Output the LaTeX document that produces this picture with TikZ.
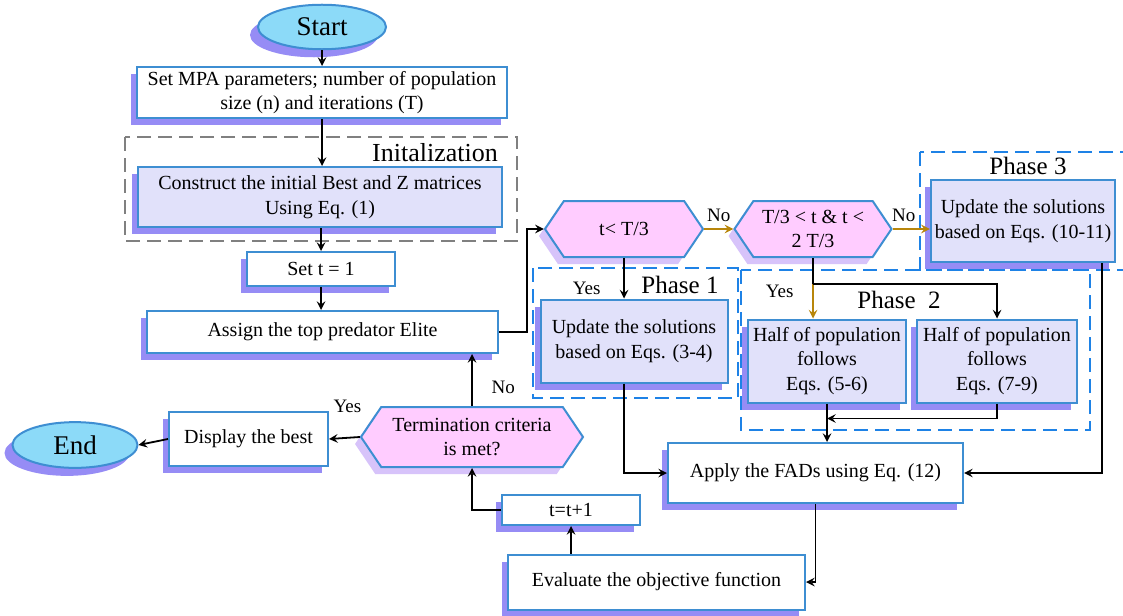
\documentclass[tikz,border=0pt]{standalone}
\usepackage{fontspec}
\setmainfont{Liberation Serif}
\usepackage{xcolor}
\usetikzlibrary{shapes,arrows,positioning,shadows,calc}

\definecolor{boxline}{RGB}{62,142,210}
\definecolor{boxshadow}{RGB}{150,140,245}
\definecolor{hexshadow}{RGB}{215,195,250}
\definecolor{hexfill}{RGB}{255,204,255}
\definecolor{lavender}{RGB}{225,225,250}
\definecolor{termfill}{RGB}{140,218,248}
\definecolor{yesno}{RGB}{184,134,11}
\definecolor{frameblue}{RGB}{30,130,230}

\begin{document}
\begin{tikzpicture}[
    x=0.5pt, y=-0.5pt,
    font=\fontsize{10}{12.3}\selectfont,
    process/.style={rectangle, draw=boxline, line width=1pt, fill=white, align=center, inner sep=2pt,
        drop shadow={shadow xshift=-3pt, shadow yshift=-3.5pt, fill=boxshadow, opacity=1}},
    phasebox/.style={process, fill=lavender},
    decision/.style={signal, signal to=west and east, signal pointer angle=112, draw=boxline, line width=1pt,
        fill=hexfill, align=center, inner sep=1pt,
        drop shadow={shadow xshift=-3pt, shadow yshift=-3.5pt, fill=hexshadow, opacity=1}},
    terminal/.style={ellipse, draw=boxline, line width=1pt, fill=termfill, font=\fontsize{13.5}{15}\selectfont,
        drop shadow={shadow xshift=-4pt, shadow yshift=-4pt, fill=boxshadow, opacity=1}},
    frame/.style={dash pattern=on 7pt off 3.5pt, line width=1pt, draw=frameblue},
    title/.style={font=\fontsize{12.5}{14}\selectfont},
    answer/.style={font=\fontsize{9.5}{11}\selectfont},
    arrow/.style={->, >=stealth, line width=0.9pt},
    branch/.style={arrow, draw=yesno}
]
\useasboundingbox (0,0) rectangle (1123,615);

% Frames
\draw[frame, draw=gray] (125,137) rectangle (517,241);
\node[title, font=\fontsize{13}{15}\selectfont] (initlbl) at (435,153) {Initalization};
\draw[frame] (920,152) rectangle (1140,270);
\node[title] (p3lbl) at (1028,166) {Phase 3};
\draw[frame] (533,268) rectangle (738,398);
\node[title] (p1lbl) at (680,285) {Phase 1};
\draw[frame] (741,270) rectangle (1090,430);
\node[title] (p2lbl) at (899,300) {Phase\ \ 2};

% Main column
\node[terminal, minimum width=64pt, minimum height=20pt] (start) at (322,27) {Start};
\node[process, minimum width=185pt, minimum height=25.5pt] (setmpa) at (322,92.5)
    {Set MPA parameters; number of population\\size (n) and iterations (T)};
\node[phasebox, minimum width=182pt, minimum height=30pt] (construct) at (320,197)
    {Construct the initial Best and Z matrices\\Using Eq. (1)};
\node[process, minimum width=74pt, minimum height=17pt] (sett) at (321,269) {Set t = 1};
\node[process, minimum width=175.5pt, minimum height=21pt] (assign) at (322.5,332) {Assign the top predator Elite};

% Decisions
\node[decision, minimum width=79pt, minimum height=28pt] (first) at (624,229) {t< T/3};
\node[decision, minimum width=78.5pt, minimum height=28pt] (second) at (813,229) {T/3 < t \& t <\\2 T/3};

% Phases
\node[phasebox, minimum width=91.5pt, minimum height=41pt] (phase3) at (1023,221)
    {Update the solutions\\based on Eqs. (10-11)};
\node[phasebox, minimum width=93.5pt, minimum height=41.5pt] (phase1) at (634,341)
    {Update the solutions\\based on Eqs. (3-4)};
\node[phasebox, minimum width=79pt, minimum height=41.5pt] (halfa) at (827,361)
    {Half of population\\follows\\Eqs. (5-6)};
\node[phasebox, minimum width=80pt, minimum height=41.5pt] (halfb) at (997,361)
    {Half of population\\follows\\Eqs. (7-9)};

% Bottom part
\node[process, minimum width=147.5pt, minimum height=30pt] (apply) at (815.5,473) {Apply the FADs using Eq. (12)};
\node[process, minimum width=148.5pt, minimum height=27.5pt] (evaluate) at (656.5,582) {Evaluate the objective function};
\node[process, minimum width=69pt, minimum height=15pt] (tinc) at (571,510) {t=t+1};
\node[decision, minimum width=111pt, minimum height=30pt] (stop) at (472,437) {Termination criteria\\is met?};
\node[process, minimum width=79.5pt, minimum height=27pt] (display) at (248.5,439) {Display the best};
\node[terminal, minimum width=62.5pt, minimum height=22pt] (end) at (75,445) {End};

% Connectors
\draw[arrow] (start) -- (setmpa);
\draw[arrow] (setmpa) -- (setmpa |- construct.north);
\draw[arrow] (construct.south -| sett) -- (sett);
\draw[arrow] (sett) -- (sett |- assign.north);
\draw[arrow] (assign.east) -- ++(28,0) |- (first.west);

\draw[branch] (first.east) -- node[answer, above, text=black] {No} (second.west);
\draw[branch] (second.east) -- node[answer, above, pos=0.3, text=black] {No} (second.east -| phase3.west);

\draw[arrow] (first.south) -- node[answer, pos=0.75, left=8pt] {Yes} (first.south |- phase1.north);
\draw[line width=0.9pt] (second.south) -- ++(0,26) coordinate (fork);
\draw[branch] (fork) -- node[answer, pos=0.2, left=6pt, text=black] {Yes} (fork |- halfa.north);
\draw[arrow] (fork) -| (halfb.north);

\draw[arrow] (halfa.south) -- (halfa.south |- apply.north);
\draw[arrow] (halfb.south) |- ($(halfa.south)+(0,15)$);
\draw[arrow] (first.south |- phase1.south) |- (apply.west);
\draw[arrow] ([xshift=-7pt]phase3.south east) |- (apply.east);

\draw[arrow] (apply.south) |- (evaluate.east);
\draw[arrow] (tinc.south |- evaluate.north) -- (tinc.south);
\draw[arrow] (tinc.west) -| (stop.south);
\draw[arrow] (stop.north) -- node[answer, right=6pt, pos=0.35] {No} (stop.north |- assign.south);
\draw[arrow] (stop.west) -- node[answer, above=9pt, pos=0.4] {Yes} (display.east);
\draw[arrow] (display.west) -- (end.east);

\end{tikzpicture}
\end{document}
